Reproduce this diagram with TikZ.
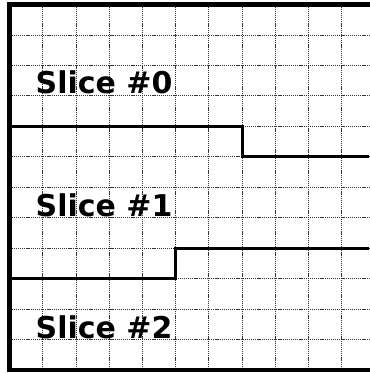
\documentclass[tikz,border=0pt]{standalone}
\usepackage{fontspec}
\setmainfont{DejaVu Sans}
\begin{document}
\begin{tikzpicture}[x=1pt,y=-1pt,
  gridline/.style={dash pattern=on 1.2pt off 0.9pt,line width=0.8pt,black!80},
  border/.style={line width=4.6pt,line cap=rect},
  slice/.style={line width=3pt},
  label/.style={font=\fontsize{30}{36}\selectfont\bfseries,inner sep=0pt,anchor=base west}]
\useasboundingbox (0,0) rectangle (369,374);
\def\xs{33.22}
\def\ys{30.46}
\def\xo{9.5}
\def\yo{4.5}
% grid
\foreach \k in {1,...,10} \draw[gridline] ({\xo+\k*\xs},\yo) -- ({\xo+\k*\xs},{\yo+12*\ys});
\foreach \j in {1,...,11} \draw[gridline] (\xo,{\yo+\j*\ys}) -- (369,{\yo+\j*\ys});
% slice boundaries
\draw[slice] (\xo,{\yo+4*\ys}) -- ({\xo+7*\xs},{\yo+4*\ys}) -- ({\xo+7*\xs},{\yo+5*\ys}) -- (369,{\yo+5*\ys});
\draw[slice] (\xo,{\yo+9*\ys}) -- ({\xo+5*\xs},{\yo+9*\ys}) -- ({\xo+5*\xs},{\yo+8*\ys}) -- (369,{\yo+8*\ys});
% border
\draw[border] (369,\yo) -- (\xo,\yo) -- (\xo,{\yo+12*\ys}) -- (369,{\yo+12*\ys});
% labels
\node[label] (s0) at (35.5,94) {Slice \#0};
\node[label] (s1) at (35.5,216) {Slice \#1};
\node[label] (s2) at (35.5,338) {Slice \#2};
\end{tikzpicture}
\end{document}
